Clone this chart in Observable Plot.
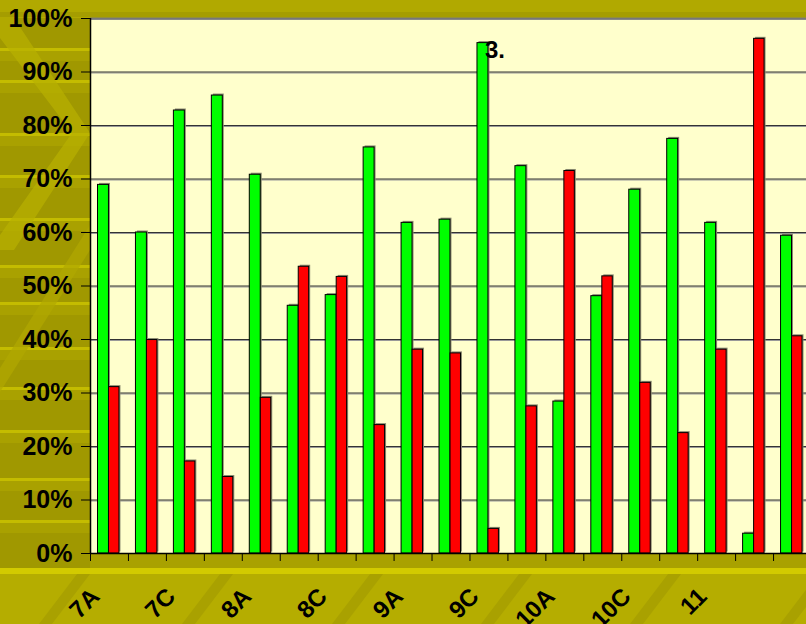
<!DOCTYPE html>
<html><head><meta charset="utf-8">
<script src="https://cdn.jsdelivr.net/npm/d3@7"></script>
<script src="https://cdn.jsdelivr.net/npm/@observablehq/plot@0.6"></script>
<style>
html,body{margin:0;padding:0;}
body{width:806px;height:624px;overflow:hidden;position:relative;background:#A9A100;font-family:"Liberation Sans",Arial,sans-serif;}
#bg{position:absolute;left:0;top:0;width:806px;height:624px;}
#chart{position:absolute;left:0;top:0;}
</style></head><body>
<div id="bg"></div><div id="chart"></div>
<script>
// ---- data ----
const categories = ["7A","7B","7C","7D","8A","8B","8C","8D","9A","9B","9C","9D","10A","10B","10C","10D","11","12","13"];
const tickLabels = ["7A","7C","8A","8C","9A","9C","10A","10C","11"];
const greenValues = [0.689,0.600,0.828,0.856,0.708,0.463,0.483,0.759,0.618,0.624,0.954,0.724,0.284,0.481,0.680,0.775,0.618,0.037,0.594];
const redValues   = [0.311,0.399,0.172,0.143,0.291,0.536,0.517,0.240,0.381,0.374,0.046,0.275,0.715,0.518,0.319,0.225,0.381,0.962,0.406];
const yTicks = [0,0.1,0.2,0.3,0.4,0.5,0.6,0.7,0.8,0.9,1];
const annotationText = "3.";
const annotationCategory = "9C";

// ---- decorative background ----
(function(){
  const W = 806, H = 624;
  const svg = d3.select("#bg").append("svg").attr("width", W).attr("height", H);
  svg.append("rect").attr("width", W).attr("height", H).attr("fill", "#A9A100");
  svg.append("rect").attr("width", W).attr("height", 18).attr("fill", "#B1A900");
  svg.append("rect").attr("y", 12).attr("width", W).attr("height", 5).attr("fill", "#A59D00");
  svg.append("rect").attr("y", 18).attr("width", 90).attr("height", 552).attr("fill", "#A09800");
  const stripes = [48,80,133,175,218,265,302,347,387,430,478,520];
  stripes.forEach(s => {
    svg.append("rect").attr("x", 0).attr("y", s).attr("width", 90).attr("height", 3).attr("fill", "#C4BC00");
    svg.append("rect").attr("x", 0).attr("y", s + 3).attr("width", 90).attr("height", 10).attr("fill", "#A9A100");
  });
  svg.append("polygon").attr("points", "0,18 14,18 90,133 14,250 0,250 0,235 72,133 0,38").attr("fill", "#B8B000").attr("opacity", 0.7);
  svg.append("polygon").attr("points", "90,225 90,250 0,392 0,368").attr("fill", "#B0A800").attr("opacity", 0.7);
  svg.append("rect").attr("y", 570).attr("width", W).attr("height", 54).attr("fill", "#B5AD00");
  svg.append("rect").attr("y", 568).attr("width", W).attr("height", 6).attr("fill", "#D2CA00");
  [39,182,332,481,630,780].forEach(x0 => {
    svg.append("polygon").attr("points", `${x0},624 ${x0+13},624 ${x0+51},574 ${x0+38},574`).attr("fill", "#A9A100");
  });
})();

// ---- chart ----
const greenData = categories.map((c, i) => ({c, v: greenValues[i]}));
const redData = categories.map((c, i) => ({c, v: redValues[i]}));
const font = "Liberation Sans, Arial, sans-serif";

const chart = Plot.plot({
  width: 806,
  height: 624,
  marginLeft: 90,
  marginRight: -5,
  marginTop: 18,
  marginBottom: 71,
  style: {background: "transparent", overflow: "visible", fontFamily: font, color: "#000"},
  x: {type: "band", domain: categories, padding: 0, round: false, label: null},
  y: {domain: [0, 1], label: null},
  marks: [
    Plot.frame({fill: "#FFFFCC", stroke: null}),
    Plot.ruleY(yTicks.slice(1), {stroke: "#999", dy: 1}),
    Plot.ruleY(yTicks.slice(1), {stroke: "#333", strokeWidth: 1}),
    Plot.ruleY([1], {stroke: "#777", strokeWidth: 2}),
    Plot.barY(greenData, {x: "c", y: "v", fill: "#8a8a70", insetLeft: 7.5, insetRight: 19.5, dx: 1.5, dy: -1.5}),
    Plot.barY(redData, {x: "c", y: "v", fill: "#8a8a70", insetLeft: 18.5, insetRight: 9, dx: 1.5, dy: -1.5}),
    Plot.barY(greenData, {x: "c", y: "v", fill: "#00FF00", stroke: "#000", strokeWidth: 1, insetLeft: 7.5, insetRight: 19.5}),
    Plot.barY(redData, {x: "c", y: "v", fill: "#FF0000", stroke: "#000", strokeWidth: 1, insetLeft: 18.5, insetRight: 9}),
    Plot.ruleY([0], {stroke: "#000", strokeWidth: 1.5}),
    Plot.axisY(yTicks, {label: null, tickFormat: d3.format(".0%"), tickSize: 9, tickPadding: 9, fontSize: 25, fontWeight: "bold", stroke: "#000", fill: "#000"}),
    Plot.axisX({label: null, tickSize: 8, tickFormat: () => "", dx: -18.97, stroke: "#000"}),
    Plot.text(tickLabels, {x: d => d, text: d => d, frameAnchor: "bottom", rotate: -45, textAnchor: "end", lineAnchor: "middle", dx: -14, dy: 39, fontSize: 24, fontWeight: "bold", fill: "#000"}),
    Plot.ruleX([categories[0]], {dx: -18.97, stroke: "#000", strokeWidth: 1.5}),
    Plot.text([annotationText], {x: () => annotationCategory, text: d => d, frameAnchor: "top", textAnchor: "start", lineAnchor: "middle", dx: -4, dy: 32, fontSize: 24, fontWeight: "bold", fill: "#000"})
  ]
});
document.getElementById("chart").appendChild(chart);
</script>
</body></html>
